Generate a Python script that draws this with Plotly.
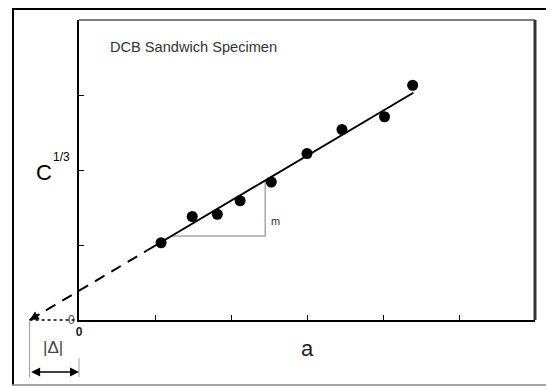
import plotly.graph_objects as go

# ---- data ----
crack_length = [1.08, 1.49, 1.82, 2.12, 2.53, 3.00, 3.46, 4.02, 4.39]
compliance_cbrt = [1.03, 1.38, 1.41, 1.59, 1.84, 2.22, 2.54, 2.71, 3.13]

fit_x = [0.90, 4.40]          # solid regression line
fit_y = [0.93, 3.03]
extrap_x = [-0.65, 0.90]      # dashed extrapolation to the a-axis
extrap_y = [0.00, 0.93]
delta = -0.65                 # x-intercept |Δ|

slope_tri_x = [1.22, 2.45, 2.45]
slope_tri_y = [1.12, 1.12, 1.86]

x_ticks = [0, 1, 2, 3, 4, 5, 6]
x_ticktext = ["<b>0</b>", "", "", "", "", "", ""]
y_ticks = [0, 1, 2, 3, 4]
y_ticktext = ["0", "", "", "", ""]

# ---- geometry (page body has an 8px margin) ----
OFF = 8
W, H = 554 - OFF, 386 - OFF
PL, PR, PT, PB = 79 - OFF, 535 - OFF, 20 - OFF, 320 - OFF   # plot box in pixels
x_range = [0, 6]
y_range = [0, 4]
ppx = (PR - PL) / (x_range[1] - x_range[0])
ppy = (PB - PT) / (y_range[1] - y_range[0])
# full-figure helper axes aligned with the data axes
x2_range = [-PL / ppx, (W - PL) / ppx]
y2_range = [-(H - PB) / ppy, PB / ppy]


def px(x):
    return (x - OFF) / W


def py(y):
    return 1 - (y - OFF) / H


FONT = "Liberation Sans, Arial, sans-serif"

fig = go.Figure()

fig.add_trace(go.Scatter(x=extrap_x, y=extrap_y, mode="lines", xaxis="x2", yaxis="y2",
                         line=dict(color="black", width=2, dash="11px,8px"), hoverinfo="skip"))
fig.add_trace(go.Scatter(x=[delta, 0], y=[0, 0], mode="lines", xaxis="x2", yaxis="y2",
                         line=dict(color="black", width=1.5, dash="3px,3px"), hoverinfo="skip"))
fig.add_trace(go.Scatter(x=[delta, delta, None, 0, 0], y=[0, -0.76, None, -0.51, -0.76],
                         mode="lines", xaxis="x2", yaxis="y2",
                         line=dict(color="#9a9a9a", width=1), hoverinfo="skip"))
fig.add_trace(go.Scatter(x=slope_tri_x, y=slope_tri_y, mode="lines",
                         line=dict(color="#a8a8a8", width=1.5), hoverinfo="skip"))
fig.add_trace(go.Scatter(x=fit_x, y=fit_y, mode="lines",
                         line=dict(color="black", width=2), hoverinfo="skip"))
fig.add_trace(go.Scatter(x=crack_length, y=compliance_cbrt, mode="markers",
                         marker=dict(color="black", size=11), cliponaxis=False))

annotations = [
    dict(text="DCB Sandwich Specimen", x=0.38, y=3.64, xref="x", yref="y",
         xanchor="left", yanchor="middle", showarrow=False,
         font=dict(family=FONT, size=14.6, color="#333")),
    dict(text="m", x=2.59, y=1.32, xref="x", yref="y", xanchor="center", yanchor="middle",
         showarrow=False, font=dict(family=FONT, size=11, color="#333")),
    dict(text="C", x=px(44), y=py(172), xref="paper", yref="paper",
         xanchor="center", yanchor="middle", showarrow=False,
         font=dict(family=FONT, size=22, color="black")),
    dict(text="1/3", x=px(61), y=py(157), xref="paper", yref="paper",
         xanchor="center", yanchor="middle", showarrow=False,
         font=dict(family=FONT, size=12, color="black")),
    dict(text="a", x=3.0, y=-(348 - 320) / ppy, xref="x2", yref="y2",
         xanchor="center", yanchor="middle", showarrow=False,
         font=dict(family=FONT, size=22, color="#222")),
    dict(text="|Δ|", x=-0.34, y=-0.37, xref="x2", yref="y2",
         xanchor="center", yanchor="middle", showarrow=False,
         font=dict(family=FONT, size=17, color="#444")),
    dict(text="", x=delta, y=0, xref="x2", yref="y2", ax=delta + 0.15, ay=0.09,
         axref="x2", ayref="y2", showarrow=True, arrowhead=2, arrowsize=1.2,
         arrowwidth=1.5, arrowcolor="black"),
    dict(text="", x=0, y=-0.693, xref="x2", yref="y2", ax=delta, ay=-0.693,
         axref="x2", ayref="y2", showarrow=True, arrowhead=2, startarrowhead=2,
         arrowside="end+start", arrowsize=1.2, arrowwidth=1.5, arrowcolor="black"),
]

shapes = [
    dict(type="line", xref="x domain", yref="y domain", x0=0, x1=1, y0=1, y1=1,
         line=dict(color="#555", width=1.5)),
    dict(type="line", xref="x domain", yref="y domain", x0=1, x1=1, y0=0, y1=1,
         line=dict(color="#333", width=3)),
    dict(type="line", xref="paper", yref="paper", x0=px(13), x1=px(13), y0=py(9), y1=py(385),
         line=dict(color="black", width=2)),
    dict(type="line", xref="paper", yref="paper", x0=px(12), x1=1, y0=py(9), y1=py(9),
         line=dict(color="black", width=2)),
    dict(type="line", xref="paper", yref="paper", x0=px(12), x1=1, y0=py(385), y1=py(385),
         line=dict(color="#888", width=1.5)),
]

axis_common = dict(showgrid=False, zeroline=False, automargin=False, fixedrange=True)

fig.update_layout(
    width=W, height=H, template="none",
    margin=dict(l=0, r=0, t=0, b=0, pad=0),
    paper_bgcolor="white", plot_bgcolor="rgba(0,0,0,0)",
    showlegend=False,
    font=dict(family=FONT, color="black"),
    xaxis=dict(domain=[PL / W, PR / W], range=x_range, anchor="y",
               showline=True, linecolor="black", linewidth=2,
               ticks="inside", ticklen=5, tickwidth=1, tickcolor="black",
               tickmode="array", tickvals=x_ticks, ticktext=x_ticktext,
               tickfont=dict(size=12, family=FONT, color="#222"), **axis_common),
    yaxis=dict(domain=[1 - PB / H, 1 - PT / H], range=y_range, anchor="x",
               showline=True, linecolor="black", linewidth=2,
               ticks="inside", ticklen=5, tickwidth=1, tickcolor="black",
               tickmode="array", tickvals=y_ticks, ticktext=y_ticktext,
               tickfont=dict(size=12, family=FONT, color="#444"), **axis_common),
    xaxis2=dict(domain=[0, 1], range=x2_range, anchor="y2", visible=False, **axis_common),
    yaxis2=dict(domain=[0, 1], range=y2_range, anchor="x2", visible=False, **axis_common),
    annotations=annotations,
    shapes=shapes,
)

fig.write_html("out.html")
